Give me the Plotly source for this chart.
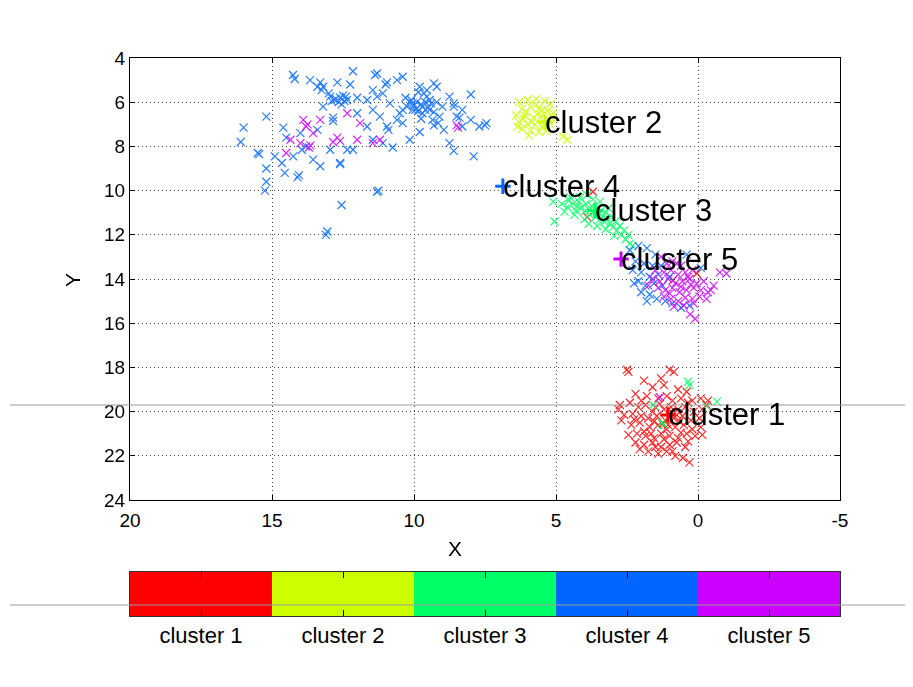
import plotly.graph_objects as go

# ---------------- data ----------------
cluster_names = ["cluster 1", "cluster 2", "cluster 3", "cluster 4", "cluster 5"]
cluster_colors = ["#FF0000", "#CCFF00", "#00FF66", "#0066FF", "#CC00FF"]

cluster1_pts = [
    (2.5, 18.1), (2.45, 18.2), (1.0, 18.1), (0.85, 18.2), (1.9, 18.6), (1.6, 18.9), (1.2, 18.8), (0.7, 19.0),
    (0.4, 19.1), (2.2, 19.2), (1.8, 19.3), (1.4, 19.4), (1.1, 19.3), (0.9, 19.5), (0.6, 19.4), (0.2, 19.5),
    (-0.1, 19.4), (-0.35, 19.5), (2.75, 19.7), (2.4, 19.6), (2.1, 19.8), (1.85, 19.7), (1.5, 19.8), (1.2, 19.9),
    (0.95, 19.8), (0.7, 19.9), (0.45, 19.8), (0.15, 20.0), (-0.15, 19.9), (2.6, 20.15), (2.3, 20.1), (2.0, 20.2),
    (1.75, 20.3), (1.45, 20.2), (1.15, 20.4), (0.85, 20.3), (0.55, 20.2), (0.25, 20.4), (-0.05, 20.3), (2.7, 20.4),
    (2.35, 20.6), (2.05, 20.5), (1.7, 20.7), (1.4, 20.6), (1.1, 20.8), (0.8, 20.7), (0.5, 20.6), (0.2, 20.8),
    (-0.1, 20.7), (2.45, 21.05), (2.15, 21.0), (1.85, 21.1), (1.55, 21.2), (1.3, 21.0), (1.0, 21.1), (0.7, 21.2),
    (0.4, 21.0), (0.1, 21.1), (-0.15, 21.05), (2.2, 21.4), (1.9, 21.5), (1.6, 21.4), (1.3, 21.6), (1.0, 21.5),
    (0.75, 21.4), (0.45, 21.6), (1.75, 21.8), (1.4, 21.9), (1.1, 21.8), (0.8, 22.0), (0.53, 22.1), (0.3, 22.3),
    (2.05, 21.7), (0.95, 20.0), (1.25, 20.55), (0.65, 20.45), (1.6, 20.0), (0.35, 19.6), (2.8, 19.9), (1.3, 18.5),
    (1.9, 20.9), (1.2, 21.25), (0.6, 20.95), (1.55, 20.45), (-0.3, 19.7), (1.65, 21.0), (1.05, 20.6),
    (0.75, 20.15), (1.35, 19.65), (2.25, 20.35), (0.35, 21.35), (1.5, 21.6), (0.9, 21.8), (2.0, 19.5),
    (3.7, 10.05), (3.9, 11.2), (0.88, 14.05), (0.04, 13.75),
]

cluster2_pts = [
    (6.3, 6.0), (6.0, 5.9), (5.7, 5.85), (5.4, 5.95), (5.2, 6.1), (6.2, 6.3), (5.9, 6.2), (5.6, 6.3), (5.3, 6.4),
    (5.1, 6.5), (6.4, 6.6), (6.1, 6.6), (5.8, 6.7), (5.5, 6.6), (5.25, 6.8), (6.3, 6.9), (6.0, 7.0), (5.75, 7.0),
    (5.5, 7.1), (5.2, 7.0), (6.2, 7.2), (5.9, 7.3), (5.6, 7.35), (5.35, 7.3), (6.05, 6.45), (5.65, 6.55),
    (5.85, 6.9), (5.45, 6.85), (6.35, 7.1), (5.95, 7.5), (5.7, 6.1), (5.5, 6.35), (4.6, 7.7), (4.75, 7.55),
    (5.15, 6.7), (6.15, 6.75),
]

cluster3_pts = [
    (5.1, 10.5), (5.05, 11.4), (4.8, 10.6), (4.6, 10.75), (4.4, 10.6), (4.3, 10.9), (4.2, 10.5), (4.1, 10.75),
    (4.0, 10.95), (3.95, 10.6), (3.85, 10.85), (3.8, 11.1), (3.75, 10.7), (3.65, 10.95), (3.6, 11.2), (3.55, 10.8),
    (3.5, 11.05), (3.45, 11.3), (3.4, 10.9), (3.35, 11.15), (3.3, 11.4), (3.25, 11.0), (3.2, 11.25), (3.1, 11.5),
    (3.05, 11.2), (3.0, 11.65), (2.9, 11.4), (2.85, 11.8), (2.75, 11.6), (2.7, 12.0), (2.6, 11.8), (2.55, 12.2),
    (2.45, 12.0), (2.4, 12.4), (4.5, 10.3), (4.15, 10.3), (3.9, 10.2), (3.7, 10.4), (4.7, 10.95), (4.35, 11.1),
    (4.0, 11.3), (3.85, 11.5), (3.55, 11.6), (3.25, 11.75), (2.95, 12.05), (2.3, 12.5), (3.45, 10.5), (3.15, 10.8),
    (4.55, 10.45), (4.25, 10.7), (0.35, 18.65), (0.3, 18.8), (-0.67, 19.55), (1.58, 19.7), (1.27, 20.5),
    (1.2, 20.6), (-0.3, 19.75),
]

cluster4_pts = [
    (14.26, 4.77), (14.2, 4.95), (13.66, 5.0), (13.3, 5.1), (13.2, 5.3), (12.7, 5.1), (12.15, 4.6), (11.3, 4.7),
    (12.25, 5.2), (12.95, 5.75), (12.6, 5.8), (12.36, 5.9), (12.0, 5.8), (11.65, 5.9), (13.2, 6.2), (12.85, 6.7),
    (12.85, 6.85), (12.0, 6.5), (11.45, 5.45), (11.3, 5.75), (10.95, 5.1), (10.85, 6.05), (10.6, 5.0),
    (10.4, 4.85), (10.25, 6.2), (10.05, 6.35), (9.8, 5.3), (9.55, 5.75), (9.45, 6.35), (9.2, 5.3), (9.1, 6.65),
    (8.75, 5.75), (8.6, 6.05), (8.0, 5.65), (8.3, 6.35), (8.0, 6.8), (7.45, 6.95), (7.7, 7.1), (7.9, 8.45),
    (8.75, 7.85), (8.6, 8.2), (8.95, 7.25), (9.8, 7.35), (10.15, 7.7), (10.75, 8.05), (11.3, 10.05),
    (11.25, 10.0), (12.55, 10.65), (13.05, 11.85), (13.1, 12.0), (15.2, 6.65), (16.0, 7.15), (16.1, 7.8),
    (15.5, 8.3), (15.45, 8.35), (15.2, 9.0), (15.2, 9.6), (15.25, 10.0), (14.9, 8.45), (14.65, 8.75),
    (14.55, 9.2), (14.6, 7.15), (14.5, 7.6), (14.25, 8.45), (14.1, 9.4), (14.05, 9.3), (13.8, 8.0), (13.55, 8.6),
    (13.3, 8.9), (12.95, 8.15), (12.6, 8.75), (12.35, 8.15), (12.15, 8.15), (11.65, 7.1), (11.45, 7.7),
    (11.1, 7.85), (10.95, 7.1), (11.45, 6.35), (11.2, 6.65), (10.6, 6.8), (10.4, 6.35), (13.4, 7.25),
    (14.0, 7.4), (13.95, 8.15), (10.15, 6.0), (9.95, 6.35), (9.7, 6.5), (9.35, 6.8), (9.15, 6.95), (8.5, 6.65),
    (8.3, 7.1), (8.6, 6.2), (12.8, 5.9), (12.5, 5.7), (12.65, 6.0), (12.4, 5.75), (12.9, 5.95), (12.55, 6.1),
    (13.0, 5.6), (13.4, 5.3), (13.25, 5.45), (9.9, 6.0), (9.7, 6.2), (9.6, 6.0), (10.0, 6.15), (9.85, 6.4),
    (9.5, 6.25), (9.4, 6.05), (10.1, 5.9), (9.65, 5.6), (9.3, 6.45), (9.0, 6.2), (9.75, 6.75), (10.3, 5.8),
    (10.5, 6.5), (9.2, 6.0), (9.55, 5.45), (9.85, 5.55), (11.37, 4.77), (11.0, 5.2), (11.1, 5.6), (9.3, 5.15),
    (8.4, 6.7), (7.5, 7.05), (10.9, 7.25), (10.4, 6.95), (9.3, 7.05), (12.6, 8.8),
    (12.75, 5.85), (12.45, 5.95), (9.75, 6.1), (9.6, 6.35), (10.05, 6.05), (9.45, 5.9),
    (2.4, 12.7), (2.1, 12.5), (1.8, 12.6), (1.5, 12.9), (2.2, 13.2), (1.9, 13.3), (1.6, 13.4), (2.3, 13.6),
    (2.0, 13.7), (1.7, 13.9), (1.4, 13.8), (2.1, 14.1), (1.85, 14.3), (1.55, 14.2), (1.25, 14.3), (2.0, 14.6),
    (1.7, 14.7), (1.45, 14.9), (1.15, 15.0), (0.9, 15.1), (1.8, 15.0), (0.6, 15.3), (0.3, 15.2), (2.25, 14.2),
    (1.3, 13.4), (0.4, 12.9), (-0.1, 13.5), (1.0, 13.9),
]

cluster5_pts = [
    (1.3, 13.0), (1.1, 13.3), (0.9, 13.2), (0.6, 13.4), (1.5, 13.6), (1.2, 13.7), (0.95, 13.6), (0.7, 13.8),
    (0.45, 13.7), (0.2, 13.6), (1.6, 14.0), (1.35, 14.1), (1.05, 14.0), (0.8, 14.2), (0.55, 14.1), (0.3, 14.0),
    (0.05, 14.2), (-0.2, 14.1), (1.4, 14.4), (1.15, 14.5), (0.9, 14.4), (0.65, 14.6), (0.4, 14.5), (0.15, 14.4),
    (-0.1, 14.5), (-0.35, 14.6), (1.2, 14.8), (0.95, 14.9), (0.7, 15.0), (0.45, 14.85), (0.2, 14.9),
    (-0.05, 14.8), (-0.3, 14.9), (-0.45, 14.5), (0.5, 15.2), (0.85, 15.25), (0.28, 15.6), (0.1, 15.8),
    (-0.77, 13.7), (-1.0, 13.75), (0.75, 13.3), (0.35, 13.9), (1.75, 14.3), (0.6, 14.35), (0.25, 14.25),
    (-0.55, 14.3), (1.0, 14.65), (0.15, 15.1),
    (13.9, 6.8), (13.8, 7.1), (13.3, 6.8), (13.65, 7.95), (13.7, 8.05), (14.35, 7.7), (14.5, 8.3), (14.0, 7.85),
    (12.7, 7.6), (12.85, 7.8), (12.6, 7.75), (12.35, 6.5), (11.9, 6.95), (12.0, 7.7), (11.45, 7.85), (11.2, 7.7),
    (8.5, 7.05), (8.45, 7.15), (13.55, 7.4), (13.75, 7.0), (1.34, 19.35),
]

# centroid markers / label anchors
centroid_x = [1.06, 5.39, 3.63, 6.87, 2.71]
centroid_y = [20.15, 6.9, 10.9, 9.8, 13.1]

x_ticks = [20, 15, 10, 5, 0, -5]
x_tick_text = ["20", "15", "10", "5", "0", "-5"]
y_ticks = [4, 6, 8, 10, 12, 14, 16, 18, 20, 22, 24]

all_pts = [cluster1_pts, cluster2_pts, cluster3_pts, cluster4_pts, cluster5_pts]

# ---------------- figure ----------------
# page body adds an 8 px offset, so the figure is laid out in (screen px - 8)
OFF = 8
W, H = 913 - OFF, 687 - OFF
L, R = 130 - OFF, 840 - OFF          # plot area left / right in figure px
main_top, main_bot = 58 - OFF, 500 - OFF
cb_top, cb_bot = 572 - OFF, 616 - OFF
PW = R - L

def px_x(px):
    return (px - OFF - L) / PW

def px_y(py):
    return (H - (py - OFF)) / H

fig = go.Figure()

for pts, col, name in zip(all_pts, cluster_colors, cluster_names):
    fig.add_trace(go.Scatter(
        x=[p[0] for p in pts], y=[p[1] for p in pts], mode="markers", name=name,
        marker=dict(symbol="x-thin", size=8, color=col, line=dict(color=col, width=1.2)),
        opacity=0.85, showlegend=False, xaxis="x", yaxis="y"))

for cx, cy, col in zip(centroid_x, centroid_y, cluster_colors):
    fig.add_trace(go.Scatter(
        x=[cx], y=[cy], mode="markers",
        marker=dict(symbol="cross-thin", size=11, color=col, line=dict(color=col, width=3)),
        showlegend=False, xaxis="x", yaxis="y"))

# colorbar as bars on second axes
fig.add_trace(go.Bar(
    x=[1, 2, 3, 4, 5], y=[1, 1, 1, 1, 1], width=1, marker=dict(color=cluster_colors, line=dict(width=0)),
    showlegend=False, xaxis="x2", yaxis="y2"))

font_fam = "Liberation Sans, Arial, sans-serif"

for cx, cy, name in zip(centroid_x, centroid_y, cluster_names):
    fig.add_annotation(x=cx, y=cy, xref="x", yref="y", text=name, showarrow=False,
                       xanchor="left", yanchor="middle", xshift=-2,
                       font=dict(size=31, color="black", family=font_fam))

fig.update_layout(
    width=W, height=H,
    margin=dict(l=L, r=W - R, t=0, b=0),
    paper_bgcolor="white", plot_bgcolor="white",
    font=dict(family=font_fam, color="black"),
    bargap=0,
    xaxis=dict(
        domain=[0, 1], range=[20, -5], tickvals=x_ticks, ticktext=x_tick_text,
        ticks="inside", ticklen=5, tickcolor="black",
        showline=True, linecolor="black", linewidth=1, mirror="ticks",
        showgrid=True, gridcolor="#444", griddash="1px,3px", gridwidth=1, zeroline=False,
        tickfont=dict(size=19, family=font_fam), anchor="y", automargin=False, ticklabelstandoff=3),
    yaxis=dict(
        domain=[(H - main_bot) / H, (H - main_top) / H], range=[24, 4], tickvals=y_ticks,
        ticks="inside", ticklen=5, tickcolor="black",
        showline=True, linecolor="black", linewidth=1, mirror="ticks",
        showgrid=True, gridcolor="#444", griddash="1px,3px", gridwidth=1, zeroline=False,
        tickfont=dict(size=19, family=font_fam), anchor="x", automargin=False),
    xaxis2=dict(
        domain=[0, 1], range=[0.5, 5.5], tickvals=[1, 2, 3, 4, 5], ticktext=cluster_names,
        ticks="inside", ticklen=6, tickcolor="black", showline=True, linecolor="#333", linewidth=1,
        mirror="ticks", showgrid=False, zeroline=False, anchor="y2",
        tickfont=dict(size=22, family=font_fam), automargin=False),
    yaxis2=dict(
        domain=[(H - cb_bot) / H, (H - cb_top) / H], range=[0, 1], showticklabels=False,
        ticks="", showline=True, linecolor="#333", linewidth=1, mirror=True,
        showgrid=False, zeroline=False, anchor="x2", automargin=False),
)

# axis titles
fig.add_annotation(x=px_x(455), y=px_y(548), xref="paper", yref="paper",
                   text="X", showarrow=False, font=dict(size=21, family=font_fam),
                   xanchor="center", yanchor="middle")
fig.add_annotation(x=px_x(72), y=px_y(280), xref="paper", yref="paper",
                   text="Y", showarrow=False, textangle=-90, font=dict(size=21, family=font_fam),
                   xanchor="center", yanchor="middle")

# thin grey horizontal artefact lines across the figure
for py in (405, 605):
    fig.add_shape(type="line", xref="paper", yref="paper",
                  x0=px_x(10), x1=px_x(913), y0=px_y(py), y1=px_y(py),
                  line=dict(color="#9a9a9a", width=1), layer="above")

fig.write_html("out.html")
